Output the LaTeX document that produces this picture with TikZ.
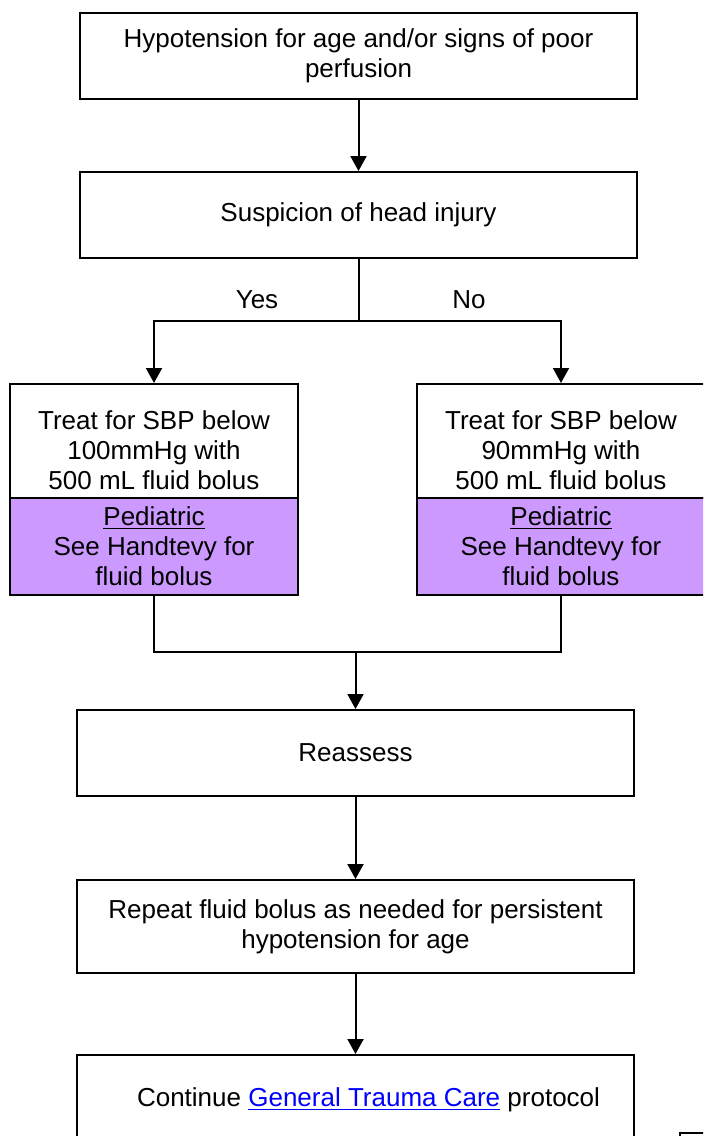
\documentclass[tikz,border=0pt]{standalone}
\usepackage{fontspec}
\setmainfont{Liberation Sans}
\usetikzlibrary{arrows.meta}
\definecolor{lav}{RGB}{204,153,255}
\definecolor{linkblue}{RGB}{0,0,255}
\begin{document}
\begin{tikzpicture}[x=0.5pt,y=-0.5pt,
  every node/.style={font=\fontsize{13}{15}\selectfont},
  box/.style={draw=black, line width=1pt, rectangle, inner sep=0pt, align=center, fill=white},
  widebox/.style={box, minimum width=278.5pt, minimum height=43pt},
  sidebox/.style={box, minimum width=144pt, minimum height=57pt},
  pedbox/.style={box, fill=lav, minimum width=144pt, minimum height=48.5pt},
  arr/.style={-{Triangle[width=8pt,length=7.5pt]}, line width=1pt},
  conn/.style={line width=1pt},
  lbl/.style={inner sep=0pt}]
\useasboundingbox (0,0) rectangle (703,1136);
\clip (0,0) rectangle (703,1136);
\fill[white] (0,0) rectangle (703,1136);

\node[widebox] (b1) at (358.5,56) {Hypotension for age and/or signs of poor\\perfusion};
\node[widebox] (b2) at (358.5,215) {Suspicion of head injury};

\node[sidebox] (tL) at (154,441) {\rule{0pt}{18.5pt}Treat for SBP below\\100mmHg with\\500 mL fluid bolus};
\node[pedbox] (pL) at (154,546.5) {\underline{Pediatric}\\See Handtevy for\\fluid bolus};
\node[sidebox] (tR) at (561,441) {\rule{0pt}{18.5pt}Treat for SBP below\\90mmHg with\\500 mL fluid bolus};
\node[pedbox] (pR) at (561,546.5) {\underline{Pediatric}\\See Handtevy for\\fluid bolus};

\node[widebox] (r) at (355.5,753) {Reassess};
\node[widebox, minimum height=46.5pt] (b3) at (355.5,926.5) {Repeat fluid bolus as needed for persistent\\hypotension for age};
\node[widebox, minimum height=45pt] (b4) at (355.5,1100) {\hspace*{13pt}Continue {\color{linkblue}\underline{General Trauma Care}} protocol};

\node[lbl] (yes) at (257,300) {Yes};
\node[lbl] (no) at (469,300) {No};

\coordinate (split) at (358.5,321);
\coordinate (merge) at (355.5,652);

\draw[arr] (b1) -- (b2);
\draw[conn] (b2.south) -- (split);
\draw[arr] (split) -| (tL.north);
\draw[arr] (split) -| (tR.north);
\draw[conn] (pL.south) |- (merge);
\draw[conn] (pR.south) |- (merge);
\draw[arr] (merge) -- (r.north);
\draw[arr] (r) -- (b3);
\draw[arr] (b3) -- (b4);

\draw[conn] (680,1133) rectangle (730,1170);
\end{tikzpicture}
\end{document}
